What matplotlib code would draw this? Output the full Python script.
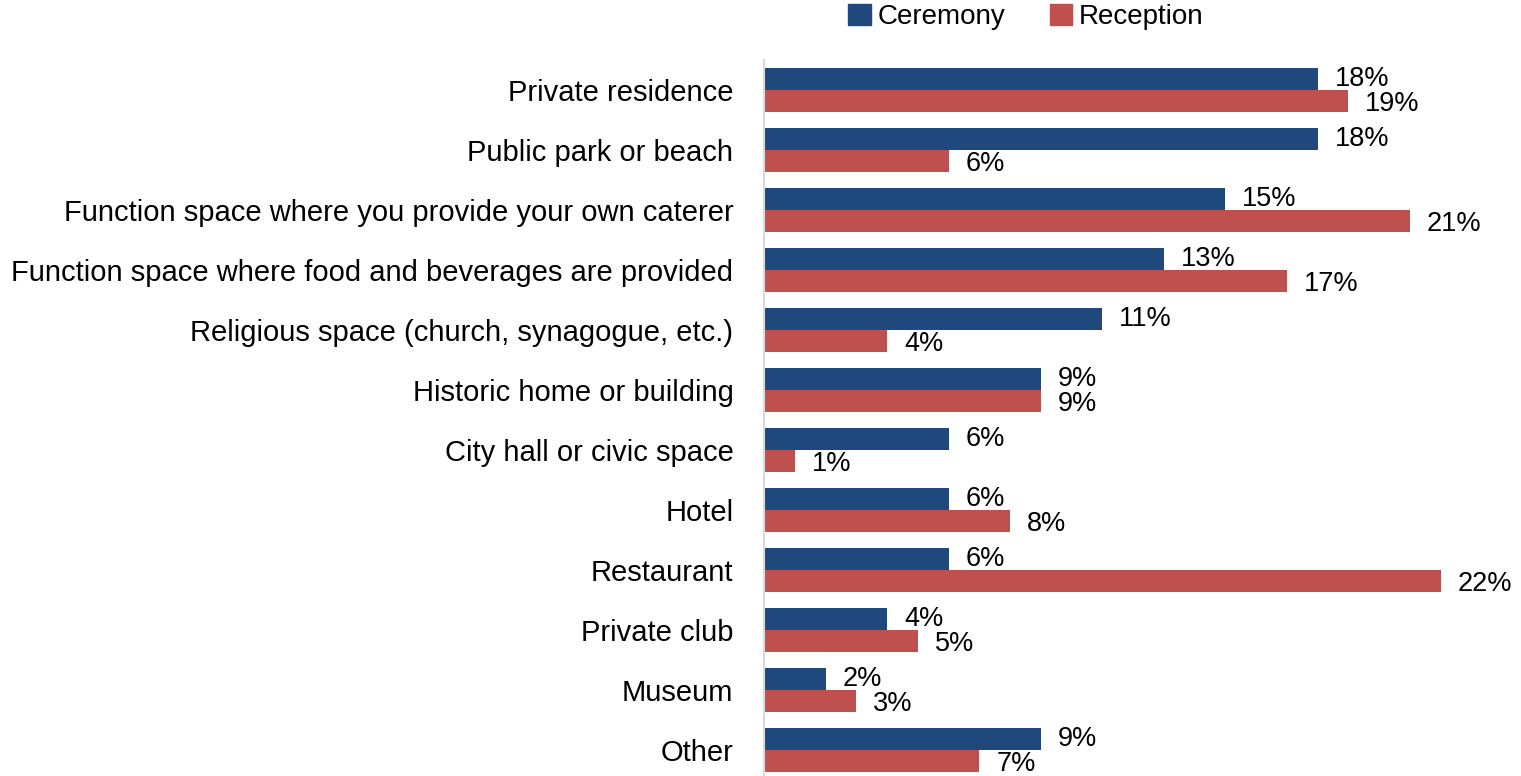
import numpy as np
import matplotlib.pyplot as plt
from matplotlib.patches import Patch

plt.rcParams['font.family'] = ['Liberation Sans', 'DejaVu Sans']

categories = ['Private residence', 'Public park or beach',
              'Function space where you provide your own caterer',
              'Function space where food and beverages are provided',
              'Religious space (church, synagogue, etc.)',
              'Historic home or building', 'City hall or civic space',
              'Hotel', 'Restaurant', 'Private club', 'Museum', 'Other']
ceremony = [18, 18, 15, 13, 11, 9, 6, 6, 6, 4, 2, 9]
reception = [19, 6, 21, 17, 4, 9, 1, 8, 22, 5, 3, 7]

blue = '#1F497D'
red = '#C0504D'

fig = plt.figure(figsize=(15.21, 7.76), dpi=100)
# axes: left edge at x=764 px, top at 60 px, rows of 60 px
ax = fig.add_axes([764/1521, 1 - 780/776, (1533-764)/1521, 720/776])

y = np.arange(len(categories))
h = 0.36
ax.barh(y - h/2, ceremony, height=h, color=blue)
ax.barh(y + h/2, reception, height=h, color=red)

for yi, c, r in zip(y, ceremony, reception):
    ax.text(c + 0.55, yi - h/2 - 0.01, f'{c}%', va='center', ha='left', fontsize=19.5)
    ax.text(r + 0.55, yi + h/2 + 0.06, f'{r}%', va='center', ha='left', fontsize=19.5)

ax.set_ylim(len(categories) - 0.5, -0.5)
ax.set_xlim(0, 25)
ax.set_yticks(y)
ax.set_yticklabels(categories, fontsize=21)
ax.tick_params(axis='y', length=0, pad=22)
ax.set_xticks([])
for s in ['top', 'right', 'bottom']:
    ax.spines[s].set_visible(False)
ax.spines['left'].set_color('#D9D9D9')
ax.spines['left'].set_linewidth(1.5)

handles = [Patch(color=blue, label='Ceremony'), Patch(color=red, label='Reception')]
fig.legend(handles=handles, loc='center', bbox_to_anchor=(1026/1521, 1 - 17/776),
           ncol=2, frameon=False, fontsize=20, handlelength=0.8, handleheight=0.8,
           handletextpad=0.25, columnspacing=1.6)

fig.savefig('out.png', dpi=100)
